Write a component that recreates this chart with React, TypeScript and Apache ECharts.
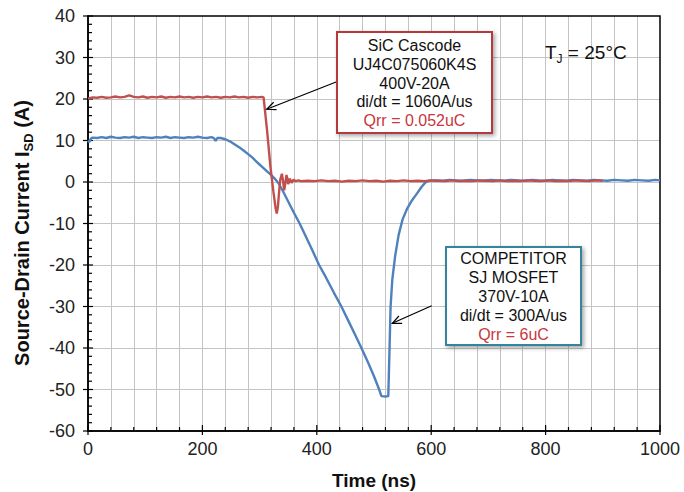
import React, { useEffect, useRef } from 'react';
import * as echarts from 'echarts';

// Time (ns), current (A)
const sicCascode: [number, number][] = [
  [0, 20.1], [8, 20.4], [16, 20.3], [24, 20.5], [32, 20.3], [40, 20.4], [48, 20.6], [56, 20.4],
  [64, 20.5], [72, 20.9], [80, 20.5], [88, 20.4], [96, 20.6], [104, 20.3], [112, 20.5], [120, 20.4],
  [128, 20.6], [136, 20.3], [144, 20.5], [152, 20.4], [160, 20.6], [168, 20.4], [176, 20.5], [184, 20.3],
  [192, 20.5], [200, 20.4], [208, 20.6], [216, 20.4], [224, 20.5], [232, 20.3], [240, 20.5], [248, 20.4],
  [256, 20.6], [264, 20.4], [272, 20.5], [280, 20.3], [288, 20.5], [296, 20.4], [304, 20.5], [307, 20.4],
  [313, 12.5], [319, 3.6], [324, -2.2], [328, -6.3], [330, -7.6], [332, -6.0], [334, -2.5], [336, 0.5],
  [339, 2.0], [341, 0.2], [343, -2.0], [345, -0.3], [347, 1.7], [349, 0.6], [350, -0.5], [352, 0.3],
  [353, 0.8], [355, 0.1], [356, -0.2], [359, 0.5], [363, 0.2], [368, 0.4],
  [372, 0.2], [384, 0.3], [396, 0.2], [408, 0.4], [420, 0.2], [432, 0.3], [444, 0.1], [456, 0.3],
  [468, 0.2], [480, 0.4], [492, 0.2], [504, 0.3], [516, 0.1], [528, 0.3], [540, 0.2], [552, 0.4],
  [564, 0.2], [576, 0.3], [588, 0.2], [600, 0.4], [612, 0.3], [624, 0.2], [636, 0.4], [648, 0.2],
  [660, 0.3], [672, 0.2], [684, 0.4], [696, 0.3], [708, 0.2], [720, 0.4], [732, 0.2], [744, 0.3],
  [756, 0.2], [768, 0.4], [780, 0.3], [792, 0.2], [804, 0.4], [816, 0.2], [828, 0.3], [840, 0.2],
  [852, 0.4], [864, 0.3], [876, 0.2], [888, 0.4], [900, 0.3],
];

const competitorSJ: [number, number][] = [
  [0, 10.0], [2, 9.6], [5, 10.4], [8, 10.7], [16, 10.6], [24, 10.8], [32, 10.6], [40, 10.9],
  [48, 10.7], [56, 10.6], [64, 10.8], [72, 10.7], [80, 10.9], [88, 10.6], [96, 10.8], [104, 10.7],
  [112, 10.6], [120, 10.8], [128, 10.7], [136, 10.9], [144, 10.6], [152, 10.8], [160, 10.7], [168, 10.6],
  [176, 10.8], [184, 10.7], [192, 10.9], [200, 10.7], [208, 10.6], [216, 10.8], [220, 10.6], [223, 9.9],
  [226, 10.6], [232, 10.6], [240, 10.3], [248, 9.8], [256, 9.1], [264, 8.4], [272, 7.6], [280, 6.7],
  [288, 5.8], [296, 4.7], [304, 3.7], [312, 2.7], [320, 1.7], [326, 0.9], [333, -0.3], [340, -2.0],
  [350, -4.7], [360, -7.4], [370, -10.0], [380, -12.9], [392, -16.4], [404, -20.0], [416, -23.0],
  [430, -26.7], [443, -30.0], [455, -33.4], [467, -36.8], [478, -40.0], [490, -43.6], [500, -46.8],
  [509, -50.0], [513, -51.6], [520, -51.7], [525, -51.6], [527, -41.0], [529, -30.0], [532, -23.5],
  [537, -17.8], [543, -12.8], [550, -9.0], [558, -6.4], [566, -4.5], [575, -2.8], [583, -1.2],
  [590, -0.1], [596, 0.3], [608, 0.4], [620, 0.3], [632, 0.5], [644, 0.4], [656, 0.3], [668, 0.5],
  [680, 0.4], [692, 0.3], [704, 0.5], [716, 0.4], [728, 0.3], [740, 0.5], [752, 0.4], [764, 0.3],
  [776, 0.5], [788, 0.4], [800, 0.3], [812, 0.5], [824, 0.4], [836, 0.3], [848, 0.5], [860, 0.4],
  [872, 0.3], [884, 0.5], [896, 0.4], [908, 0.3], [920, 0.5], [932, 0.4], [944, 0.3], [956, 0.5],
  [968, 0.4], [980, 0.3], [992, 0.5], [1000, 0.4],
];

// Axis tick values (ns): minor every 40, labelled every 200
const xTickValues = [
  0, 40, 80, 120, 160, 200, 240, 280, 320, 360, 400, 440, 480, 520, 560, 600,
  640, 680, 720, 760, 800, 840, 880, 920, 960, 1000,
];
const xMajorStep = 200;
// Axis tick values (A): minor every 2, labelled every 10
const yTickValues = [
  -60, -58, -56, -54, -52, -50, -48, -46, -44, -42, -40, -38, -36, -34, -32, -30,
  -28, -26, -24, -22, -20, -18, -16, -14, -12, -10, -8, -6, -4, -2, 0, 2, 4, 6, 8,
  10, 12, 14, 16, 18, 20, 22, 24, 26, 28, 30, 32, 34, 36, 38, 40,
];
const yGridValues = [-50, -40, -30, -20, -10, 0, 10, 20, 30];
const yMajorStep = 10;
const X_MIN = 0;
const X_MAX = 1000;
const Y_MIN = -60;
const Y_MAX = 40;

const sicLines = ['SiC Cascode', 'UJ4C075060K4S', '400V-20A', 'di/dt = 1060A/us'];
const sicQrr = 'Qrr = 0.052uC';
const sjLines = ['COMPETITOR', 'SJ MOSFET', '370V-10A', 'di/dt = 300A/us'];
const sjQrr = 'Qrr = 6uC';

const FONT = 'Liberation Sans, Arial, Helvetica, sans-serif';
const RED = '#C0504D';
const BLUE = '#4F81BD';
const QRR_RED = '#C8373D';
const GRID_GRAY = '#c4c4c4';

const GRID_L = 88;
const GRID_R = 24;
const GRID_T = 16;
const GRID_B = 61;
const W = 684;
const H = 492;

function arrow(sx: number, sy: number, tx: number, ty: number) {
  const dx = tx - sx;
  const dy = ty - sy;
  const len = Math.hypot(dx, dy);
  const ux = dx / len;
  const uy = dy / len;
  const nx = -uy;
  const ny = ux;
  const hl = 9;
  const hw = 4;
  return [
    { type: 'line', shape: { x1: sx, y1: sy, x2: tx, y2: ty }, style: { stroke: '#000', lineWidth: 1.2 }, z: 100 },
    {
      type: 'polyline',
      shape: {
        points: [
          [tx - hl * ux + hw * nx, ty - hl * uy + hw * ny],
          [tx, ty],
          [tx - hl * ux - hw * nx, ty - hl * uy - hw * ny],
        ],
      },
      style: { stroke: '#000', lineWidth: 1.2, fill: 'none' },
      z: 100,
    },
  ];
}

function box(x: number, y: number, w: number, h: number, stroke: string, lines: string[], qrr: string) {
  const text = lines.map((l) => `{k|${l}}`).join('\n') + `\n{q|${qrr}}`;
  return [
    {
      type: 'rect',
      shape: { x, y, width: w, height: h },
      style: {
        fill: '#fff',
        stroke,
        lineWidth: 2,
        shadowBlur: 4,
        shadowOffsetX: 2,
        shadowOffsetY: 2,
        shadowColor: 'rgba(0,0,0,0.35)',
      },
      z: 100,
    },
    {
      type: 'text',
      x: x + w / 2,
      y: y + h / 2 + 0.5,
      style: {
        text,
        align: 'center',
        verticalAlign: 'middle',
        rich: {
          k: { fontSize: 16, fontFamily: FONT, fill: '#111', lineHeight: 18.8 },
          q: { fontSize: 16, fontFamily: FONT, fill: QRR_RED, lineHeight: 18.8 },
        },
      },
      z: 101,
    },
  ];
}

export default function App() {
  const ref = useRef<HTMLDivElement>(null);
  useEffect(() => {
    document.body.style.margin = '0';
    const chart = echarts.init(ref.current!, null, { renderer: 'svg' });
    const gridLineData = [
      ...xTickValues.filter((v) => v !== X_MIN && v !== X_MAX).map((v) => ({ xAxis: v })),
      ...yGridValues.map((v) => ({ yAxis: v })),
    ];
    const option: any = {
      animation: false,
      backgroundColor: '#fff',
      grid: {
        left: GRID_L,
        right: GRID_R,
        top: GRID_T,
        bottom: GRID_B,
        show: false,
      },
      xAxis: {
        type: 'value',
        min: X_MIN,
        max: X_MAX,
        interval: xMajorStep,
        position: 'bottom',
        axisLine: { show: true, onZero: false, lineStyle: { color: '#000', width: 1.5 } },
        axisTick: { show: false },
        axisLabel: {
          fontSize: 18,
          fontFamily: FONT,
          color: '#222',
          margin: 9,
          formatter: (v: number) => String(v),
        },
        splitLine: { show: false },
      },
      yAxis: {
        type: 'value',
        min: Y_MIN,
        max: Y_MAX,
        interval: yMajorStep,
        position: 'left',
        axisLine: { show: true, onZero: false, lineStyle: { color: '#000', width: 1.5 } },
        axisTick: { show: false },
        axisLabel: { fontSize: 18, fontFamily: FONT, color: '#222', margin: 13 },
        splitLine: { show: false },
      },
      series: [
        {
          name: 'ticks',
          type: 'custom',
          silent: true,
          z: 2,
          clip: false,
          data: [
            ...xTickValues.map((v) => [v, Y_MIN, 0]),
            ...yTickValues.map((v) => [X_MIN, v, 1]),
          ],
          renderItem: (_p: any, api: any) => {
            const isY = api.value(2) === 1;
            if (!isY) {
              const v = api.value(0);
              const p = api.coord([v, Y_MIN]);
              const major = v % xMajorStep === 0;
              return {
                type: 'rect',
                shape: { x: p[0] - 0.6, y: p[1] - (major ? 6 : 4), width: 1.2, height: major ? 10 : 4 },
                style: { fill: '#000' },
              };
            }
            const v = api.value(1);
            const p = api.coord([X_MIN, v]);
            const major = v % yMajorStep === 0;
            return {
              type: 'rect',
              shape: { x: p[0] - (major ? 5 : 0), y: p[1] - 0.6, width: major ? 10 : 4, height: 1.2 },
              style: { fill: '#000' },
            };
          },
        },
        {
          name: 'frame',
          type: 'custom',
          silent: true,
          z: 2,
          clip: false,
          data: [[X_MIN, Y_MIN]],
          renderItem: (_p: any, api: any) => {
            const a = api.coord([X_MIN, Y_MAX]);
            const b = api.coord([X_MAX, Y_MIN]);
            return {
              type: 'rect',
              shape: { x: a[0], y: a[1], width: b[0] - a[0], height: b[1] - a[1] },
              style: { fill: 'none', stroke: '#000', lineWidth: 1.5 },
            };
          },
        },
        {
          name: 'COMPETITOR SJ MOSFET',
          type: 'line',
          data: competitorSJ,
          showSymbol: false,
          lineStyle: { color: BLUE, width: 2.4 },
          itemStyle: { color: BLUE },
          z: 3,
          markLine: {
            silent: true,
            symbol: ['none', 'none'],
            label: { show: false },
            lineStyle: { color: GRID_GRAY, width: 1, type: 'solid' },
            emphasis: { disabled: true },
            z: 1,
            data: gridLineData,
          },
        },
        {
          name: 'SiC Cascode',
          type: 'line',
          data: sicCascode,
          showSymbol: false,
          lineStyle: { color: RED, width: 2.4 },
          itemStyle: { color: RED },
          z: 4,
        },
      ],
      graphic: [
        ...arrow(336.7, 81.7, 266.7, 109.3),
        ...arrow(431.7, 305.7, 392.3, 323.3),
        ...box(337, 32, 155, 101, '#B5373C', sicLines, sicQrr),
        ...box(446, 247, 135, 98, '#31859C', sjLines, sjQrr),
        {
          type: 'text',
          x: 545,
          y: 52,
          style: {
            text: '{a|T}{s|J}{a| = 25°C}',
            align: 'left',
            verticalAlign: 'middle',
            rich: {
              a: { fontSize: 19, fontFamily: FONT, fill: '#111', lineHeight: 26, verticalAlign: 'middle' },
              s: { fontSize: 12, fontFamily: FONT, fill: '#111', lineHeight: 12, verticalAlign: 'bottom' },
            },
          },
          z: 100,
        },
        {
          type: 'text',
          x: 22,
          y: 233,
          rotation: Math.PI / 2,
          style: {
            text: '{a|Source-Drain Current I}{s|SD}{a| (A)}',
            align: 'center',
            verticalAlign: 'middle',
            rich: {
              a: { fontSize: 20, fontWeight: 'bold', fontFamily: FONT, fill: '#111', lineHeight: 26, verticalAlign: 'middle' },
              s: { fontSize: 13, fontWeight: 'bold', fontFamily: FONT, fill: '#111', lineHeight: 13, verticalAlign: 'bottom' },
            },
          },
          z: 100,
        },
        {
          type: 'text',
          x: 374,
          y: 480,
          style: {
            text: 'Time (ns)',
            align: 'center',
            verticalAlign: 'middle',
            fontSize: 19,
            fontWeight: 'bold',
            fontFamily: FONT,
            fill: '#111',
          },
          z: 100,
        },
      ],
    };
    chart.setOption(option);
    return () => chart.dispose();
  }, []);
  return <div ref={ref} style={{ width: W, height: H }} />;
}
